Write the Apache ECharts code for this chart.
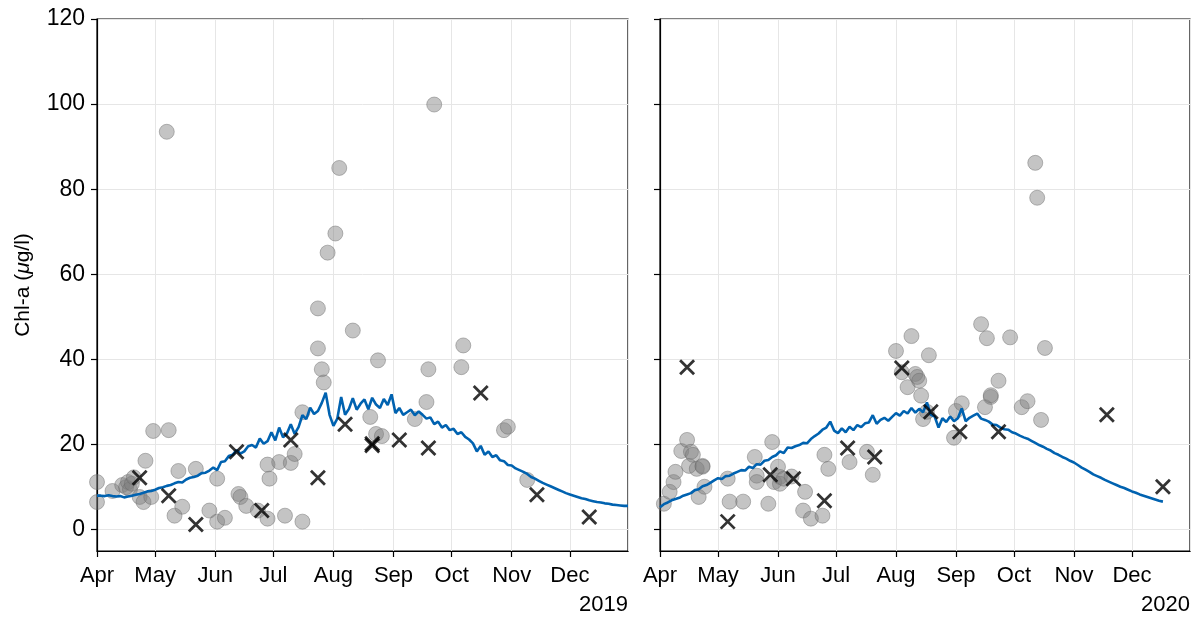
<!DOCTYPE html>
<html>
<head>
<meta charset="utf-8">
<script src="https://cdn.jsdelivr.net/npm/echarts@6/dist/echarts.min.js"></script>
<style>
  html, body { margin: 0; padding: 0; background: #fff; }
  #chart { width: 1198px; height: 617px; }
</style>
</head>
<body>
<div id="chart"></div>
<script>
// Chlorophyll-a: field samples (grey dots), monitoring samples (crosses) and
// simulated daily concentration (blue line), April–December of two seasons.

const years = [2019, 2020];
const monthLabels = ['Jan','Feb','Mar','Apr','May','Jun','Jul','Aug','Sep','Oct','Nov','Dec'];
const yTicks = [0, 20, 40, 60, 80, 100, 120];

// Field samples 2019 [MM-DD, µg/l]
const samples2019 = [
  ['04-01', 11.2], ['04-01', 6.5], ['04-09', 9.1], ['04-14', 10.5], ['04-16', 10.0],
  ['04-17', 11.2], ['04-18', 9.5], ['04-19', 10.8], ['04-20', 12.3], ['04-23', 7.7],
  ['04-25', 6.5], ['04-26', 16.2], ['04-29', 7.7], ['04-30', 23.2], ['05-07', 93.5],
  ['05-08', 23.4], ['05-11', 3.3], ['05-13', 13.8], ['05-15', 5.4], ['05-22', 14.3],
  ['05-29', 4.5], ['06-02', 12.0], ['06-02', 1.9], ['06-06', 2.8], ['06-13', 8.4],
  ['06-14', 7.7], ['06-17', 5.6], ['06-23', 4.5], ['06-28', 2.6], ['06-28', 15.3],
  ['06-29', 12.0], ['07-04', 15.9], ['07-07', 3.3], ['07-10', 15.7], ['07-12', 17.8],
  ['07-16', 1.9], ['07-16', 27.6], ['07-24', 52.0], ['07-24', 42.6], ['07-26', 37.7],
  ['07-27', 34.6], ['07-29', 65.1], ['08-02', 69.6], ['08-04', 85.0], ['08-11', 46.8],
  ['08-20', 26.5], ['08-23', 22.5], ['08-24', 39.8], ['08-26', 22.0], ['09-12', 26.0],
  ['09-18', 30.0], ['09-19', 37.7], ['09-22', 99.9], ['10-06', 38.2], ['10-07', 43.3],
  ['10-28', 23.4], ['10-30', 24.2], ['11-09', 11.7]
];

// Monitoring samples 2019 [MM-DD, µg/l]
const monitoring2019 = [
  ['04-23', 12.2], ['05-08', 8.0], ['05-22', 1.2], ['06-12', 18.3], ['06-25', 4.5],
  ['07-10', 21.1], ['07-24', 12.2], ['08-07', 24.8], ['08-21', 20.2], ['08-21', 19.8],
  ['09-04', 21.1], ['09-19', 19.2], ['10-16', 32.1], ['11-14', 8.2], ['12-11', 3.0]
];

// Simulated concentration 2019, every second day from 1 April
const model2019 = [
  8.0, 8.0, 7.9, 8.1, 7.9, 7.8, 7.9, 7.6, 7.8, 8.0,
  8.2, 8.4, 8.7, 9.0, 9.1, 9.4, 9.8, 10.0, 10.3, 10.5,
  10.9, 11.2, 11.1, 11.8, 12.2, 12.4, 12.7, 13.3, 13.4, 13.9,
  14.6, 14.0, 15.9, 16.1, 17.3, 17.6, 18.7, 17.9, 18.4, 19.6,
  19.9, 19.3, 21.4, 20.2, 20.8, 22.9, 21.0, 24.0, 21.7, 22.6,
  24.8, 22.5, 24.1, 26.9, 26.0, 28.7, 27.2, 27.9, 29.8, 32.2,
  27.0, 24.4, 26.1, 31.2, 27.0, 28.4, 30.9, 28.2, 29.6, 30.6,
  28.3, 31.0, 29.4, 28.6, 30.7, 29.3, 31.8, 27.4, 28.6, 27.0,
  27.6, 28.2, 26.9, 27.8, 27.0, 26.1, 26.4, 24.8, 25.4, 24.0,
  24.6, 23.4, 23.7, 22.5, 22.9, 21.8, 21.2, 20.3, 18.4, 19.7,
  17.6, 18.4, 17.1, 17.5, 16.3, 16.1, 15.2, 15.1, 14.4, 14.0,
  13.6, 13.1, 12.4, 12.0, 11.5, 11.0, 10.6, 10.2, 9.8, 9.4,
  9.0, 8.6, 8.3, 8.0, 7.7, 7.4, 7.2, 6.9, 6.7, 6.5,
  6.4, 6.2, 6.1, 5.9, 5.8, 5.7, 5.6, 5.6
];

// Field samples 2020 [MM-DD, µg/l]
const samples2020 = [
  ['04-03', 6.1], ['04-06', 8.9], ['04-08', 11.2], ['04-09', 13.6], ['04-12', 18.5],
  ['04-15', 21.1], ['04-16', 15.0], ['04-17', 18.3], ['04-18', 17.6], ['04-20', 14.3],
  ['04-21', 7.7], ['04-23', 15.0], ['04-23', 14.8], ['04-24', 10.1], ['05-06', 12.0],
  ['05-07', 6.6], ['05-14', 6.6], ['05-20', 17.1], ['05-21', 12.7], ['05-21', 11.2],
  ['05-27', 6.1], ['05-29', 20.6], ['05-30', 11.2], ['06-01', 14.8], ['06-02', 12.4],
  ['06-02', 10.8], ['06-04', 12.0], ['06-08', 12.5], ['06-14', 4.5], ['06-15', 8.9],
  ['06-18', 2.6], ['06-24', 3.3], ['06-25', 17.6], ['06-27', 14.3], ['07-08', 15.9],
  ['07-17', 18.3], ['07-20', 12.9], ['08-01', 42.0], ['08-04', 37.0], ['08-07', 33.5],
  ['08-09', 45.5], ['08-11', 36.6], ['08-12', 35.9], ['08-13', 35.0], ['08-14', 31.5],
  ['08-15', 26.0], ['08-17', 27.7], ['08-18', 41.0], ['08-31', 21.6], ['09-01', 27.9],
  ['09-04', 29.7], ['09-14', 48.3], ['09-16', 28.8], ['09-17', 45.0], ['09-19', 31.2],
  ['09-19', 31.6], ['09-23', 35.0], ['09-29', 45.2], ['10-05', 28.8], ['10-08', 30.2],
  ['10-12', 86.2], ['10-13', 78.0], ['10-15', 25.8], ['10-17', 42.7]
];

// Monitoring samples 2020 [MM-DD, µg/l]
const monitoring2020 = [
  ['04-15', 38.2], ['05-06', 1.9], ['05-28', 12.9], ['06-09', 12.0], ['06-25', 6.8],
  ['07-07', 19.2], ['07-21', 17.1], ['08-04', 38.0], ['08-19', 27.7], ['09-03', 23.0],
  ['09-23', 23.0], ['11-18', 27.0], ['12-17', 10.1]
];

// Simulated concentration 2020, every second day from 1 April
const model2020 = [
  5.3, 6.0, 6.4, 6.9, 7.2, 7.5, 8.0, 8.3, 8.6, 9.3,
  9.5, 10.2, 10.5, 11.0, 11.6, 12.1, 11.9, 12.6, 12.7, 13.2,
  13.6, 14.0, 13.9, 14.8, 14.5, 15.4, 15.3, 16.2, 16.4, 17.1,
  17.5, 18.4, 18.0, 19.3, 19.2, 19.6, 19.9, 20.4, 20.3, 21.3,
  22.0, 22.6, 23.5, 24.0, 25.4, 23.3, 22.7, 23.8, 22.9, 24.2,
  23.4, 24.6, 24.1, 25.0, 25.2, 26.9, 24.9, 25.8, 26.3, 25.6,
  26.5, 27.4, 26.8, 27.9, 27.3, 28.6, 27.5, 28.4, 27.6, 29.9,
  27.0, 26.6, 24.0, 26.2, 25.3, 26.6, 25.5, 26.2, 28.5, 25.5,
  26.3, 26.8, 27.3, 26.1, 25.8, 25.4, 24.7, 24.6, 24.0, 23.6,
  23.5, 22.9, 22.6, 22.1, 21.7, 21.4, 20.9, 20.4, 19.9, 19.5,
  19.0, 18.6, 18.0, 17.6, 17.1, 16.7, 16.2, 15.8, 15.2, 14.6,
  14.1, 13.6, 13.0, 12.6, 12.2, 11.7, 11.3, 10.9, 10.5, 10.1,
  9.8, 9.4, 9.0, 8.7, 8.3, 8.0, 7.7, 7.4, 7.1, 6.8, 6.6
];

const MODEL_STEP_DAYS = 2;

function dateOf(year, md) {
  const [m, d] = md.split('-').map(Number);
  return new Date(year, m - 1, d).getTime();
}
function pointsOf(year, list) {
  return list.map(([md, v]) => [dateOf(year, md), v]);
}
function modelOf(year, values) {
  return values.map((v, i) => [new Date(year, 3, 1 + i * MODEL_STEP_DAYS).getTime(), v]);
}

const FONT = 'Liberation Sans, Arial, Helvetica, sans-serif';
const gridColor = '#e6e6e6';
const crossPath = 'path://M0,0L10,10M10,0L0,10';

const panels = [
  { year: 2019, samples: samples2019, monitoring: monitoring2019, model: model2019 },
  { year: 2020, samples: samples2020, monitoring: monitoring2020, model: model2020 }
];

const grids = [
  { left: 97, top: 19, width: 531, height: 532 },
  { left: 660, top: 19, width: 530, height: 532 }
].map(g => Object.assign(g, { show: true, borderColor: '#000', borderWidth: 1.2, backgroundColor: 'transparent' }));

const xAxes = panels.map((p, i) => ({
  type: 'time',
  gridIndex: i,
  min: new Date(p.year, 3, 1).getTime(),
  max: new Date(p.year, 11, 31).getTime(),
  minInterval: 28 * 86400000,
  maxInterval: 31 * 86400000,
  splitNumber: 9,
  axisLine: { show: true, onZero: false, lineStyle: { color: '#000', width: 1.2 } },
  axisTick: { show: true, length: 6, lineStyle: { color: '#000', width: 1.2 } },
  axisLabel: {
    color: '#000', fontFamily: FONT, fontSize: 22, margin: 14,
    hideOverlap: false, showMinLabel: true, showMaxLabel: false,
    formatter: v => monthLabels[new Date(v).getMonth()]
  },
  splitLine: { show: true, lineStyle: { color: gridColor, width: 1 } }
}));

const yAxes = panels.map((p, i) => ({
  type: 'value',
  gridIndex: i,
  min: -5,
  max: 120,
  interval: 5,
  axisLine: { show: true, lineStyle: { color: '#000', width: 1.2 } },
  axisTick: {
    show: true, length: 6, lineStyle: { color: '#000', width: 1.2 },
    customValues: yTicks
  },
  axisLabel: {
    show: i === 0, color: '#000', fontFamily: FONT, fontSize: 23, margin: 12,
    customValues: yTicks
  },
  splitLine: { show: true, lineStyle: { color: gridColor, width: 1 } },
  name: i === 0 ? 'Chl-a ({it|μ}g/l)' : '',
  nameLocation: 'middle',
  nameGap: 63,
  nameRotate: 90,
  nameTextStyle: {
    color: '#000', fontFamily: FONT, fontSize: 21,
    rich: { it: { fontStyle: 'italic', fontFamily: FONT, fontSize: 21, color: '#000' } }
  }
}));

const series = [];
panels.forEach((p, i) => {
  series.push({
    type: 'scatter', xAxisIndex: i, yAxisIndex: i,
    data: pointsOf(p.year, p.samples),
    symbol: 'circle', symbolSize: 15,
    itemStyle: { color: 'rgba(128,128,128,0.58)', borderColor: 'rgba(105,105,105,0.55)', borderWidth: 1 },
    z: 2, silent: true, clip: true
  });
  series.push({
    type: 'line', xAxisIndex: i, yAxisIndex: i,
    data: modelOf(p.year, p.model),
    showSymbol: false, symbol: 'none', sampling: null,
    lineStyle: { color: '#0062b0', width: 2.6 },
    z: 3, silent: true
  });
  series.push({
    type: 'scatter', xAxisIndex: i, yAxisIndex: i,
    data: pointsOf(p.year, p.monitoring),
    symbol: crossPath, symbolSize: 14,
    itemStyle: { color: 'transparent', borderColor: '#000', borderWidth: 2.8 },
    z: 4, silent: true
  });
});

const chart = echarts.init(document.getElementById('chart'), null, { renderer: 'canvas' });
chart.setOption({
  animation: false,
  backgroundColor: '#fff',
  grid: grids,
  xAxis: xAxes,
  yAxis: yAxes,
  series: series,
  graphic: [
    { type: 'text', right: 1198 - 628, top: 594, style: { text: String(years[0]), fontFamily: FONT, fontSize: 22, fill: '#000' } },
    { type: 'text', right: 1198 - 1190, top: 594, style: { text: String(years[1]), fontFamily: FONT, fontSize: 22, fill: '#000' } }
  ]
});
</script>
</body>
</html>
